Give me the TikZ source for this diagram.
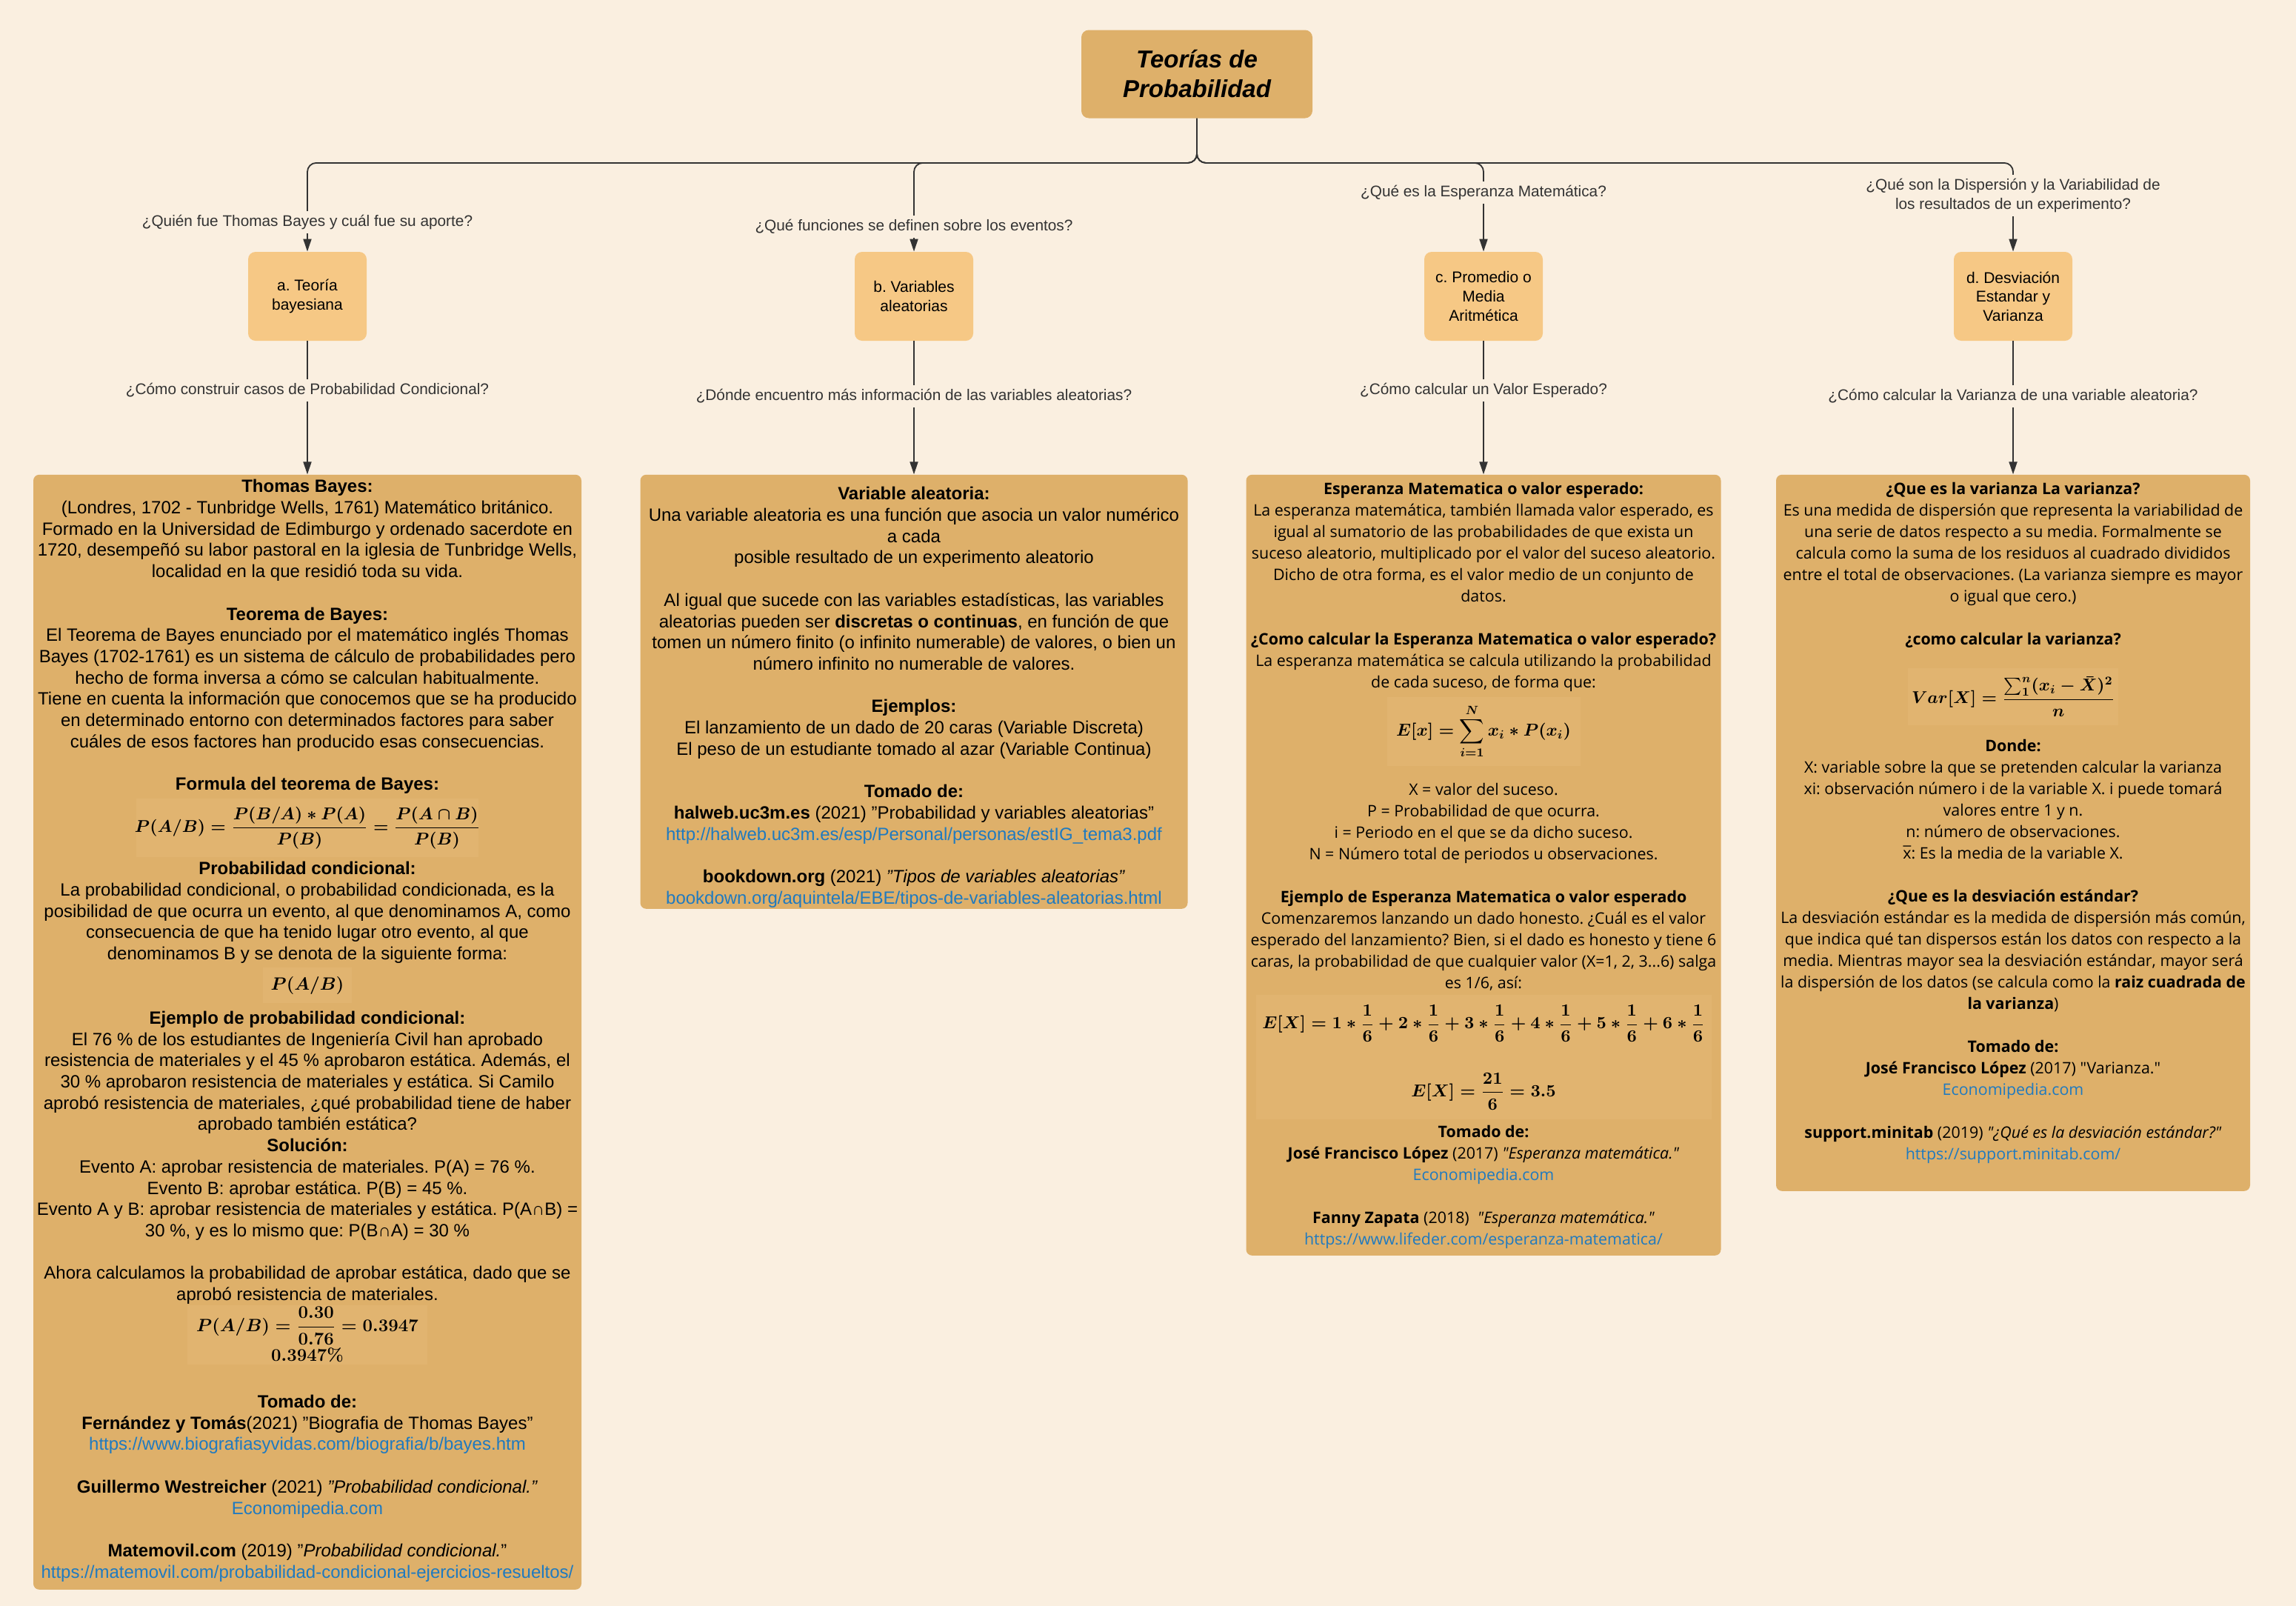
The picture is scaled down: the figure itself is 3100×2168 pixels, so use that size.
\RequirePackage{fix-cm}
\documentclass[tikz,border=0pt]{standalone}
\usepackage{amsmath}
\usepackage{amssymb}
\usepackage[no-math]{fontspec}
\setmainfont{Liberation Sans}
\newfontfamily\opensans{Open Sans}
\usetikzlibrary{positioning,arrows.meta}
\frenchspacing
\definecolor{paper}{HTML}{FAEFE0}
\definecolor{cardfill}{HTML}{DEB06A}
\definecolor{topicfill}{HTML}{F6C885}
\definecolor{panelfill}{HTML}{E1B470}
\definecolor{wirecol}{HTML}{333333}
\definecolor{weblink}{HTML}{1F7AC0}
\newcommand{\web}[1]{\textcolor{weblink}{#1}}
\newcommand{\formline}[1]{\makebox[\linewidth]{$\displaystyle #1$}}
\newcommand{\mathpanel}[4][12]{\smash{\setlength{\fboxsep}{0pt}\colorbox{panelfill}{\parbox[c][#3][c]{#2}{\centering\fontsize{#1}{14}\selectfont\mathversion{bold}#4}}}}
\tikzset{
  joint/.style={draw=wirecol, line width=0.9pt, rounded corners=6pt},
  pointer/.style={joint, -{Triangle[length=8.5pt,width=5.5pt]}},
  ask/.style={fill=paper, text=wirecol, align=center, inner xsep=2pt, inner ysep=2.5pt, font=\fontsize{10.4}{12.8}\selectfont},
  topic/.style={fill=topicfill, rounded corners=5pt, minimum width=80pt, minimum height=60pt, align=center, font=\fontsize{10.5}{12.8}\selectfont},
  headbox/.style={fill=cardfill, rounded corners=5pt, minimum width=156pt, minimum height=59.5pt, align=center, font=\fontsize{16.5}{20}\selectfont\bfseries\itshape},
  card/.style={fill=cardfill, rounded corners=4pt, align=flush center, inner xsep=1pt, inner ysep=0pt},
  sanstext/.style={font=\fontsize{12}{14.35}\selectfont},
  opentext/.style={font=\opensans\fontsize{10.7}{14.5}\selectfont},
}
\begin{document}
\begin{tikzpicture}[x=0.5pt, y=-0.5pt, node distance=90pt]
\useasboundingbox[fill=paper] (0,0) rectangle (3100,2168);

\node[headbox] (root) at (1616,100) {Teorías de\\Probabilidad};

\node[ask] (qa) at (415,300) {¿Quién fue Thomas Bayes y cuál fue su aporte?};
\node[ask] (qb) at (1234,306) {¿Qué funciones se definen sobre los eventos?};
\node[ask] (qc) at (2003,260) {¿Qué es la Esperanza Matemática?};
\node[ask] (qd) at (2718,264) {¿Qué son la Dispersión y la Variabilidad de\\los resultados de un experimento?};

\node[topic] (ta) at (415,400) {a. Teoría\\bayesiana};
\node[topic] (tb) at (1234,400) {b. Variables\\aleatorias};
\node[topic] (tc) at (2003,400) {c. Promedio o\\Media\\Aritmética};
\node[topic] (td) at (2718,400) {d. Desviación\\Estandar y\\Varianza};

\node[ask] (qA) at (415,527) {¿Cómo construir casos de Probabilidad Condicional?};
\node[ask] (qB) at (1234,535) {¿Dónde encuentro más información de las variables aleatorias?};
\node[ask] (qC) at (2003,527) {¿Cómo calcular un Valor Esperado?};
\node[ask] (qD) at (2718,535) {¿Cómo calcular la Varianza de una variable aleatoria?};

\node[card, sanstext, text width=368pt, text height=12pt, text depth=740.5pt, below=of ta] (A) {\textbf{Thomas Bayes:}\\
(Londres, 1702 - Tunbridge Wells, 1761) Matemático británico.\\
Formado en la Universidad de Edimburgo y ordenado sacerdote en\\
1720, desempeñó su labor pastoral en la iglesia de Tunbridge Wells,\\
localidad en la que residió toda su vida.\\[14.35pt]
\textbf{Teorema de Bayes:}\\
El Teorema de Bayes enunciado por el matemático inglés Thomas\\
Bayes (1702-1761) es un sistema de cálculo de probabilidades pero\\
hecho de forma inversa a cómo se calculan habitualmente.\\
Tiene en cuenta la información que conocemos que se ha producido\\
en determinado entorno con determinados factores para saber\\
cuáles de esos factores han producido esas consecuencias.\\[14.35pt]
\textbf{Formula del teorema de Bayes:}\\[14.15pt]
\mathpanel[11.5]{231pt}{39.5pt}{\formline{P(A/B)=\frac{P(B/A)\ast P(A)}{P(B)}=\frac{P(A\cap B)}{P(B)}}}\\[14.15pt]
\textbf{Probabilidad condicional:}\\
La probabilidad condicional, o probabilidad condicionada, es la\\
posibilidad de que ocurra un evento, al que denominamos A, como\\
consecuencia de que ha tenido lugar otro evento, al que\\
denominamos B y se denota de la siguiente forma:\\[6.15pt]
\mathpanel{60pt}{24pt}{\formline{P(A/B)}}\\[8.65pt]
\textbf{Ejemplo de probabilidad condicional:}\\
El 76 \% de los estudiantes de Ingeniería Civil han aprobado\\
resistencia de materiales y el 45 \% aprobaron estática. Además, el\\
30 \% aprobaron resistencia de materiales y estática. Si Camilo\\
aprobó resistencia de materiales, ¿qué probabilidad tiene de haber\\
aprobado también estática?\\
\textbf{Solución:}\\
Evento A: aprobar resistencia de materiales. P(A) = 76 \%.\\
Evento B: aprobar estática. P(B) = 45 \%.\\
Evento A y B: aprobar resistencia de materiales y estática. P(A∩B) =\\
30 \%, y es lo mismo que: P(B∩A) = 30 \%\\[14.35pt]
Ahora calculamos la probabilidad de aprobar estática, dado que se\\
aprobó resistencia de materiales.\\[11.65pt]
\mathpanel{162pt}{40pt}{\formline{P(A/B)=\frac{0.30}{0.76}=0.3947}\\[1pt]\formline{0.3947\%}}\\[32.15pt]
\textbf{Tomado de:}\\
\textbf{Fernández y Tomás}(2021) "Biografia de Thomas Bayes"\\
\web{https://www.biografiasyvidas.com/biografia/b/bayes.htm}\\[14.35pt]
\textbf{Guillermo Westreicher} (2021) \textit{"Probabilidad condicional."}\\
\web{Economipedia.com}\\[14.35pt]
\textbf{Matemovil.com} (2019) "\textit{Probabilidad condicional.}"\\
\web{https://matemovil.com/probabilidad-condicional-ejercicios-resueltos/}};

\node[card, sanstext, text width=367.5pt, text height=17pt, text depth=276pt, below=of tb] (B) {\textbf{Variable aleatoria:}\\
Una variable aleatoria es una función que asocia un valor numérico\\
a cada\\
posible resultado de un experimento aleatorio\\[14.35pt]
Al igual que sucede con las variables estadísticas, las variables\\
aleatorias pueden ser \textbf{discretas o continuas}, en función de que\\
tomen un número finito (o infinito numerable) de valores, o bien un\\
número infinito no numerable de valores.\\[14.35pt]
\textbf{Ejemplos:}\\
El lanzamiento de un dado de 20 caras (Variable Discreta)\\
El peso de un estudiante tomado al azar (Variable Continua)\\[14.35pt]
\textbf{Tomado de:}\\
\textbf{halweb.uc3m.es} (2021) "Probabilidad y variables aleatorias"\\
\web{http://halweb.uc3m.es/esp/Personal/personas/estIG\_tema3.pdf}\\[14.35pt]
\textbf{bookdown.org} (2021) \textit{"Tipos de variables aleatorias"}\\
\web{bookdown.org/aquintela/EBE/tipos-de-variables-aleatorias.html}};

\node[card, opentext, text width=318.5pt, text height=13.5pt, text depth=513.5pt, below=of tc] (C) {\textbf{Esperanza Matematica o valor esperado:}\\
La esperanza matemática, también llamada valor esperado, es\\
igual al sumatorio de las probabilidades de que exista un\\
suceso aleatorio, multiplicado por el valor del suceso aleatorio.\\
Dicho de otra forma, es el valor medio de un conjunto de\\
datos.\\[14.5pt]
\textbf{¿Como calcular la Esperanza Matematica o valor esperado?}\\
La esperanza matemática se calcula utilizando la probabilidad\\
de cada suceso, de forma que:\\[17.5pt]
\mathpanel[11.6]{130.5pt}{46.5pt}{\formline{E[x]=\sum_{i=1}^{N}x_i\ast P(x_i)}}\\[26pt]
X = valor del suceso.\\
P = Probabilidad de que ocurra.\\
i = Periodo en el que se da dicho suceso.\\
N = Número total de periodos u observaciones.\\[14.5pt]
\textbf{Ejemplo de Esperanza Matematica o valor esperado}\\
Comenzaremos lanzando un dado honesto. ¿Cuál es el valor\\
esperado del lanzamiento? Bien, si el dado es honesto y tiene 6\\
caras, la probabilidad de que cualquier valor (X=1, 2, 3...6) salga\\
es 1/6, así:\\[34.5pt]
\mathpanel[11.6]{307.5pt}{84pt}{\formline{E[X]=1\ast\frac{1}{6}+2\ast\frac{1}{6}+3\ast\frac{1}{6}+4\ast\frac{1}{6}+5\ast\frac{1}{6}+6\ast\frac{1}{6}}\\[20pt]\formline{E[X]=\frac{21}{6}=3.5}}\\[37pt]
\textbf{Tomado de:}\\
\textbf{José Francisco López} (2017) \textit{"Esperanza matemática."}\\
\web{Economipedia.com}\\[14.5pt]
\textbf{Fanny Zapata} (2018)\ \ \textit{"Esperanza matemática."}\\
\web{https://www.lifeder.com/esperanza-matematica/}};

\node[card, opentext, text width=318pt, text height=13.5pt, text depth=470pt, below=of td] (D) {\textbf{¿Que es la varianza La varianza?}\\
Es una medida de dispersión que representa la variabilidad de\\
una serie de datos respecto a su media. Formalmente se\\
calcula como la suma de los residuos al cuadrado divididos\\
entre el total de observaciones. (La varianza siempre es mayor\\
o igual que cero.)\\[14.5pt]
\textbf{¿como calcular la varianza?}\\[23pt]
\mathpanel[11.5]{142pt}{38.5pt}{\formline{Var[X]=\frac{\sum_{1}^{n}(x_i-\bar{X})^2}{n}}}\\[20pt]
\textbf{Donde:}\\
X: variable sobre la que se pretenden calcular la varianza\\
xi: observación número i de la variable X. i puede tomará\\
valores entre 1 y n.\\
n: número de observaciones.\\
{\accent"00AF x}: Es la media de la variable X.\\[14.5pt]
\textbf{¿Que es la desviación estándar?}\\
La desviación estándar es la medida de dispersión más común,\\
que indica qué tan dispersos están los datos con respecto a la\\
media. Mientras mayor sea la desviación estándar, mayor será\\
la dispersión de los datos (se calcula como la \textbf{raiz cuadrada de}\\
\textbf{la varianza})\\[14.5pt]
\textbf{Tomado de:}\\
\textbf{José Francisco López} (2017) "Varianza."\\
\web{Economipedia.com}\\[14.5pt]
\textbf{support.minitab} (2019) \textit{"¿Qué es la desviación estándar?"}\\
\web{https://support.minitab.com/}};

\draw[joint] (root.south) -- ++(0,60) -| (qa.north);
\draw[joint] (root.south) -- ++(0,60) -| (qb.north);
\draw[joint] (root.south) -- ++(0,60) -| (qc.north);
\draw[joint] (root.south) -- ++(0,60) -| (qd.north);
\draw[pointer] (qa) -- (ta);
\draw[pointer] (qb) -- (tb);
\draw[pointer] (qc) -- (tc);
\draw[pointer] (qd) -- (td);
\draw[joint] (ta) -- (qA);
\draw[joint] (tb) -- (qB);
\draw[joint] (tc) -- (qC);
\draw[joint] (td) -- (qD);
\draw[pointer] (qA) -- (A);
\draw[pointer] (qB) -- (B);
\draw[pointer] (qC) -- (C);
\draw[pointer] (qD) -- (D);
\end{tikzpicture}
\end{document}
